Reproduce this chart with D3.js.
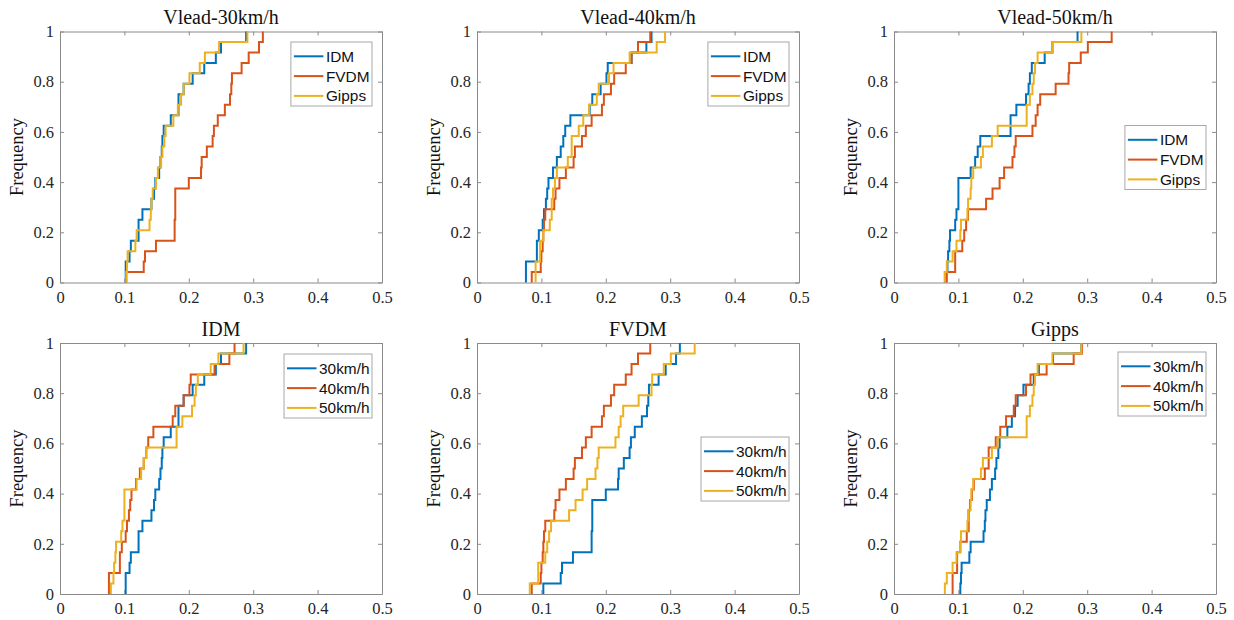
<!DOCTYPE html>
<html>
<head>
<meta charset="utf-8">
<script src="https://cdn.jsdelivr.net/npm/d3@7"></script>
<style>
  body { margin: 0; background: #fff; }
</style>
</head>
<body>
<svg id="fig" width="1234" height="620"></svg>
<script>
// Sorted samples (24 per case) for each model at each lead-vehicle speed
const idm30 = [0.102,0.102,0.108,0.110,0.122,0.122,0.128,0.142,0.146,0.148,0.154,0.156,0.158,0.159,0.161,0.172,0.184,0.184,0.192,0.206,0.224,0.242,0.250,0.289];
const idm40 = [0.076,0.076,0.093,0.093,0.096,0.102,0.104,0.107,0.109,0.111,0.118,0.124,0.130,0.134,0.137,0.145,0.175,0.179,0.192,0.201,0.203,0.240,0.263,0.271];
const idm50 = [0.079,0.083,0.084,0.086,0.087,0.095,0.097,0.100,0.100,0.100,0.119,0.126,0.130,0.134,0.181,0.181,0.190,0.205,0.209,0.211,0.214,0.234,0.246,0.285];

const fvdm30 = [0.103,0.130,0.132,0.149,0.178,0.178,0.179,0.179,0.179,0.200,0.219,0.220,0.228,0.237,0.239,0.245,0.256,0.264,0.266,0.267,0.282,0.293,0.309,0.315];
const fvdm40 = [0.085,0.099,0.100,0.102,0.103,0.104,0.106,0.120,0.122,0.128,0.138,0.150,0.152,0.163,0.169,0.178,0.194,0.197,0.208,0.213,0.231,0.240,0.250,0.269];
const fvdm50 = [0.082,0.095,0.095,0.106,0.109,0.112,0.115,0.143,0.153,0.164,0.171,0.184,0.187,0.189,0.215,0.220,0.223,0.227,0.251,0.271,0.272,0.290,0.301,0.338];

const gipps30 = [0.103,0.104,0.105,0.117,0.119,0.139,0.141,0.142,0.144,0.149,0.152,0.157,0.159,0.162,0.164,0.176,0.183,0.188,0.192,0.201,0.217,0.225,0.247,0.291];
const gipps40 = [0.091,0.091,0.098,0.098,0.103,0.113,0.116,0.116,0.118,0.121,0.124,0.141,0.147,0.147,0.158,0.165,0.174,0.186,0.189,0.205,0.212,0.237,0.279,0.292];
const gipps50 = [0.079,0.082,0.091,0.097,0.103,0.104,0.114,0.115,0.119,0.120,0.123,0.135,0.138,0.152,0.161,0.206,0.206,0.211,0.215,0.217,0.219,0.223,0.246,0.291];

const modelNames = ["IDM", "FVDM", "Gipps"];
const speedNames = ["30km/h", "40km/h", "50km/h"];
const panelTitles = ["Vlead-30km/h", "Vlead-40km/h", "Vlead-50km/h", "IDM", "FVDM", "Gipps"];
const xTickValues = [0, 0.1, 0.2, 0.3, 0.4, 0.5];
const yTickValues = [0, 0.2, 0.4, 0.6, 0.8, 1];
const yLabel = "Frequency";

const colors = ["#0072BD", "#D95319", "#EDB120"];

// panel contents: top row groups by speed, bottom row groups by model
const panels = [
  { title: panelTitles[0], series: [idm30, fvdm30, gipps30], names: modelNames, legendTop: 10.5 },
  { title: panelTitles[1], series: [idm40, fvdm40, gipps40], names: modelNames, legendTop: 10.5 },
  { title: panelTitles[2], series: [idm50, fvdm50, gipps50], names: modelNames, legendTop: 94 },
  { title: panelTitles[3], series: [idm30, idm40, idm50], names: speedNames, legendTop: 11 },
  { title: panelTitles[4], series: [fvdm30, fvdm40, fvdm50], names: speedNames, legendTop: 94 },
  { title: panelTitles[5], series: [gipps30, gipps40, gipps50], names: speedNames, legendTop: 9 }
];

const colX = [60, 477, 894];
const rowY = [31.5, 343];
const W = 322, H = 251;

const svg = d3.select("#fig");
const serif = "'Liberation Serif', 'Times New Roman', serif";
const sans = "'Liberation Sans', Arial, sans-serif";
const axisGray = "#8a8a8a";

const x = d3.scaleLinear().domain([0, 0.5]).range([0, W]);
const y = d3.scaleLinear().domain([0, 1]).range([H, 0]);
const fmt = d3.format("~g");

const line = d3.line().x(d => x(d[0])).y(d => y(d[1]));

function ecdfPoints(values) {
  const s = values.slice().sort(d3.ascending);
  const n = s.length;
  const pts = [];
  s.forEach((v, i) => { pts.push([v, i / n]); pts.push([v, (i + 1) / n]); });
  return pts;
}

panels.forEach((p, idx) => {
  const g = svg.append("g")
    .attr("transform", `translate(${colX[idx % 3]},${rowY[Math.floor(idx / 3)]})`);

  // axes: labelled bottom/left, tick-only top/right forming the box
  const bottom = g.append("g").attr("transform", `translate(0,${H})`)
    .call(d3.axisBottom(x).tickValues(xTickValues).tickFormat(fmt).tickSizeInner(-4).tickSizeOuter(0).tickPadding(8.5));
  const left = g.append("g")
    .call(d3.axisLeft(y).tickValues(yTickValues).tickFormat(fmt).tickSizeInner(-4).tickSizeOuter(0).tickPadding(6));
  const top = g.append("g")
    .call(d3.axisTop(x).tickValues(xTickValues).tickFormat("").tickSizeInner(-4).tickSizeOuter(0));
  const right = g.append("g").attr("transform", `translate(${W},0)`)
    .call(d3.axisRight(y).tickValues(yTickValues).tickFormat("").tickSizeInner(-4).tickSizeOuter(0));

  [bottom, left, top, right].forEach(a => {
    a.selectAll("path.domain").attr("stroke", axisGray).attr("stroke-width", 1);
    a.selectAll(".tick line").attr("stroke", axisGray).attr("stroke-width", 1);
    a.selectAll(".tick text").attr("fill", "#262626")
      .style("font-family", serif).style("font-size", "16.5px");
  });

  // empirical CDF staircases
  p.series.forEach((vals, i) => {
    g.append("path")
      .attr("d", line(ecdfPoints(vals)))
      .attr("fill", "none")
      .attr("stroke", colors[i])
      .attr("stroke-width", 2);
  });

  // title
  g.append("text")
    .attr("x", W / 2).attr("y", -7.5)
    .attr("text-anchor", "middle")
    .style("font-family", serif).style("font-size", "20px")
    .attr("fill", "#111")
    .text(p.title);

  // y label, left of each axes
  g.append("text")
    .attr("transform", `translate(-37,${H / 2}) rotate(-90)`)
    .attr("text-anchor", "middle")
    .style("font-family", serif).style("font-size", "18.5px")
    .attr("fill", "#111")
    .text(yLabel);

  // legend
  const lg = g.append("g");
  const box = lg.append("rect").attr("fill", "#fff").attr("stroke", "#a8a8a8").attr("stroke-width", 1);
  const rowGap = 19.8, firstRow = 14.3;
  let maxW = 0;
  p.names.forEach((name, i) => {
    const yy = firstRow + i * rowGap;
    lg.append("line").attr("x1", 3).attr("x2", 32.5).attr("y1", yy).attr("y2", yy)
      .attr("stroke", colors[i]).attr("stroke-width", 2);
    const t = lg.append("text").attr("x", 35).attr("y", yy).attr("dy", "0.36em")
      .style("font-family", sans).style("font-size", "15.4px").attr("fill", "#111")
      .text(name);
    maxW = Math.max(maxW, t.node().getComputedTextLength());
  });
  const bw = 35 + maxW + 2.5, bh = 64;
  box.attr("x", 0).attr("y", 0).attr("width", bw).attr("height", bh);
  lg.attr("transform", `translate(${W - 10 - bw},${p.legendTop})`);
});
</script>
</body>
</html>
